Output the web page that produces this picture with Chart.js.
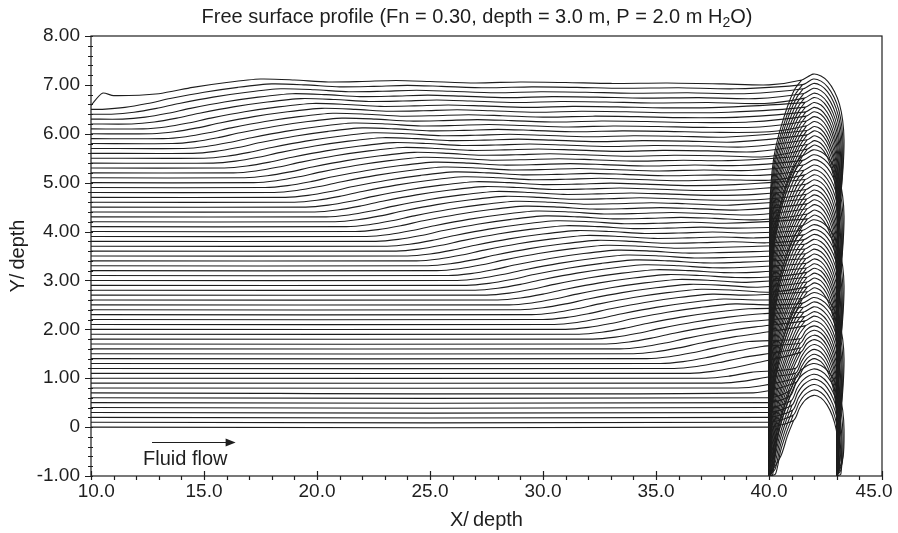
<!DOCTYPE html>
<html>
<head>
<meta charset="utf-8">
<script src="https://cdn.jsdelivr.net/npm/chart.js@4.4.1/dist/chart.umd.min.js"></script>
<style>
  html, body { margin: 0; background: #fff; }
</style>
</head>
<body>
<canvas id="surfaceChart" width="898" height="533"></canvas>
<script>
// one profile per time step, stacked upwards by 0.1 depth
const offsets = [0.0, 0.1, 0.2, 0.3, 0.4, 0.5, 0.6, 0.7, 0.8, 0.9,
  1.0, 1.1, 1.2, 1.3, 1.4, 1.5, 1.6, 1.7, 1.8, 1.9,
  2.0, 2.1, 2.2, 2.3, 2.4, 2.5, 2.6, 2.7, 2.8, 2.9,
  3.0, 3.1, 3.2, 3.3, 3.4, 3.5, 3.6, 3.7, 3.8, 3.9,
  4.0, 4.1, 4.2, 4.3, 4.4, 4.5, 4.6, 4.7, 4.8, 4.9,
  5.0, 5.1, 5.2, 5.3, 5.4, 5.5, 5.6, 5.7, 5.8, 5.9,
  6.0, 6.1, 6.2, 6.3, 6.4, 6.5, 6.6];

// leading edge of the upstream set-up for each profile (null = not yet left x = 40)
const frontX = [null, null, null, null, null, null,
  40.0, 39.3, 38.6, 37.9, 37.2, 36.5, 35.8, 35.2, 34.6, 34.0,
  33.4, 32.8, 32.2, 31.6, 31.0, 30.5, 30.0, 29.5, 29.0, 28.5,
  28.0, 27.5, 27.0, 26.6, 26.2, 25.8, 25.3, 24.9, 24.4, 24.0,
  23.5, 23.1, 22.6, 22.2, 21.7, 21.3, 20.8, 20.4, 19.9, 19.5,
  19.0, 18.6, 18.1, 17.7, 17.2, 16.8, 16.3, 15.9, 15.4, 15.0,
  14.5, 14.1, 13.6, 13.2, 12.7, 12.3, 11.8, 11.4, 10.9, 10.5, 10.0];

// set-up shape behind the leading edge (distance, rise)
const frontDx = [0, 1, 2, 3, 4.5, 6, 7.5, 9, 10.5, 12, 13.5, 15, 17, 19, 21, 23, 25.5, 28, 30];
const frontDy = [0, 0.04, 0.12, 0.22, 0.35, 0.45, 0.52, 0.50, 0.46, 0.47, 0.49, 0.47, 0.44, 0.46, 0.45, 0.43, 0.44, 0.42, 0.40];

// inlet kink on the last profile
const inletX = [10.0, 10.5, 11.0];
const inletY = [6.58, 6.83, 6.78];

// crest height over the pressure patch and how broad the crest is (0 narrow, 1 broad)
const crestY = [0.65, 0.76, 0.87, 0.98, 1.08, 1.19, 1.30,
  1.40, 1.49, 1.59, 1.69, 1.79, 1.88, 1.98, 2.07, 2.17, 2.27, 2.36, 2.46, 2.56, 2.65, 2.75,
  2.85, 2.95, 3.05, 3.15, 3.25, 3.34, 3.44, 3.54, 3.64, 3.74, 3.84, 3.94, 4.04, 4.14, 4.24,
  4.34, 4.44, 4.55, 4.65, 4.75, 4.85, 4.95, 5.06, 5.16, 5.26, 5.36, 5.47, 5.57, 5.67,
  5.77, 5.86, 5.96, 6.06, 6.15, 6.25, 6.35, 6.45, 6.54, 6.64, 6.74, 6.83, 6.93, 7.03, 7.12, 7.22];
const crestWide = [0.35, 0.42, 0.5, 0.6, 0.7, 0.85, 1.0,
  0, 0.02, 0.05, 0.08, 0.12, 0.16, 0.21, 0.27, 0.34, 0.42, 0.51, 0.61, 0.72, 0.85, 1.0,
  0, 0.02, 0.05, 0.08, 0.12, 0.16, 0.21, 0.27, 0.34, 0.42, 0.51, 0.61, 0.72, 0.85, 1.0,
  0, 0.03, 0.06, 0.1, 0.14, 0.19, 0.25, 0.32, 0.4, 0.5, 0.61, 0.73, 0.86, 1.0,
  0, 0.02, 0.04, 0.07, 0.1, 0.14, 0.18, 0.23, 0.29, 0.36, 0.44, 0.53, 0.63, 0.74, 0.86, 1.0];

// crest outlines (x, drop below crest; null = on the bed)
const narrowX = [40.0, 40.05, 40.15, 40.35, 40.6, 40.9, 41.2, 41.45, 41.7, 42.0,
  42.3, 42.55, 42.75, 42.9, 42.98, 43.02, 43.03, 43.02, 43.0, 43.0];
const narrowDrop = [null, 3.2, 2.4, 1.7, 1.2, 0.8, 0.48, 0.25, 0.08, 0,
  0.06, 0.22, 0.45, 0.75, 1.1, 1.5, 2.0, 2.7, 3.5, null];
const wideX = [40.0, 40.03, 40.08, 40.2, 40.4, 40.65, 40.9, 41.15, 41.45, 41.95,
  42.3, 42.6, 42.9, 43.12, 43.26, 43.32, 43.28, 43.16, 43.06, 43.0];
const wideDrop = [null, 3.0, 2.3, 1.75, 1.3, 0.9, 0.56, 0.3, 0.12, 0,
  0.04, 0.15, 0.36, 0.62, 0.95, 1.35, 1.9, 2.6, 3.5, null];

const bedY = -1.0;
const FONT = '"Liberation Sans", Arial, Helvetica, sans-serif';
const INK = '#1e1e1e';

function buildProfile(i) {
  const L = offsets[i];
  const last = i === offsets.length - 1;
  const pts = [];
  if (last) inletX.forEach((x, k) => pts.push({x: x, y: inletY[k]}));
  else pts.push({x: 10, y: L});

  const xf = frontX[i];
  if (xf === null) {
    pts.push({x: 40, y: L});
  } else {
    frontDx.forEach((dx, k) => {
      const x = xf + dx;
      if (x <= 40 && x > pts[pts.length - 1].x + (last ? 1.2 : 0.05)) pts.push({x: x, y: L + frontDy[k]});
    });
  }
  const endY = pts[pts.length - 1].y;

  const w = crestWide[i];
  const arch = narrowX.map((nx, k) => {
    const x = nx + w * (wideX[k] - nx);
    if (narrowDrop[k] === null) return {x: x, y: bedY};
    const d = narrowDrop[k] + w * (wideDrop[k] - narrowDrop[k]);
    return {x: x, y: crestY[i] - d};
  }).filter(p => p.y >= bedY);

  let j = arch.findIndex(p => p.y >= endY);
  if (j < 0) j = 1;
  // surface, over the crest and down the lee side, then the lower part of the front face
  return pts.concat(arch.slice(j), [{x: arch[j].x, y: null}], arch.slice(0, j + 1));
}

const datasets = offsets.map((_, i) => ({
  data: buildProfile(i),
  showLine: true,
  borderColor: INK,
  borderWidth: 1.1,
  pointRadius: 0,
  tension: 0.25,
  spanGaps: false,
  fill: false
}));

const xLabel = v => v === 10 ? '  10.0' : v === 45 ? '45.0   ' : v.toFixed(1);

const extras = {
  id: 'extras',
  afterDraw(chart) {
    const {ctx, chartArea: a, scales: {x, y}} = chart;
    ctx.save();
    ctx.strokeStyle = INK;
    ctx.fillStyle = INK;
    ctx.lineWidth = 1.2;
    ctx.strokeRect(a.left, a.top, a.right - a.left, a.bottom - a.top);

    // ticks: majors cross the axis, minors outside
    ctx.beginPath();
    for (let v = 10; v <= 45; v++) {
      const px = Math.round(x.getPixelForValue(v)) + 0.5;
      const major = v % 5 === 0;
      ctx.moveTo(px, a.bottom + 4);
      ctx.lineTo(px, a.bottom - (major ? 5 : 0));
    }
    for (let k = -5; k <= 40; k++) {
      const py = Math.round(y.getPixelForValue(k * 0.2)) + 0.5;
      const major = k % 5 === 0;
      ctx.moveTo(a.left - (major ? 6 : 3), py);
      ctx.lineTo(a.left + 2, py);
    }
    ctx.stroke();

    // title with subscript
    ctx.textBaseline = 'alphabetic';
    ctx.textAlign = 'left';
    const main = 'Free surface profile (Fn = 0.30, depth = 3.0 m, P = 2.0 m H';
    ctx.font = '20px ' + FONT;
    const w1 = ctx.measureText(main).width;
    ctx.font = '14px ' + FONT;
    const w2 = ctx.measureText('2').width;
    ctx.font = '20px ' + FONT;
    const w3 = ctx.measureText('O)').width;
    let tx = 477 - (w1 + w2 + w3) / 2;
    ctx.fillText(main, tx, 23);
    tx += w1;
    ctx.font = '14px ' + FONT;
    ctx.fillText('2', tx, 27);
    tx += w2;
    ctx.font = '20px ' + FONT;
    ctx.fillText('O)', tx, 23);

    // flow direction note
    const ax0 = x.getPixelForValue(12.7), ax1 = x.getPixelForValue(16.4);
    const ay = Math.round(y.getPixelForValue(-0.31)) + 0.5;
    ctx.lineWidth = 1.2;
    ctx.beginPath();
    ctx.moveTo(ax0, ay);
    ctx.lineTo(ax1 - 8, ay);
    ctx.stroke();
    ctx.beginPath();
    ctx.moveTo(ax1, ay);
    ctx.lineTo(ax1 - 10, ay - 4);
    ctx.lineTo(ax1 - 10, ay + 4);
    ctx.closePath();
    ctx.fill();
    ctx.textBaseline = 'middle';
    ctx.fillText('Fluid flow', x.getPixelForValue(12.3), y.getPixelForValue(-0.66));
    ctx.restore();
  }
};

new Chart(document.getElementById('surfaceChart').getContext('2d'), {
  type: 'scatter',
  data: { datasets: datasets },
  options: {
    responsive: false,
    animation: false,
    events: [],
    layout: { padding: { top: 36, right: 16, left: 0, bottom: 0 } },
    plugins: { legend: { display: false }, tooltip: { enabled: false } },
    scales: {
      x: {
        type: 'linear',
        min: 10,
        max: 45,
        grid: { drawOnChartArea: false, drawTicks: false },
        border: { display: false },
        ticks: {
          stepSize: 5,
          autoSkip: false,
          maxRotation: 0,
          padding: 4,
          color: INK,
          font: { family: FONT, size: 19 },
          callback: xLabel
        },
        title: {
          display: true,
          text: 'X/\u2009depth',
          color: INK,
          font: { family: FONT, size: 20 },
          padding: { top: 0, bottom: 1 }
        },
        afterFit: s => { s.height = 57; s.paddingLeft = 0; s.paddingRight = 0; }
      },
      y: {
        type: 'linear',
        min: -1,
        max: 8,
        grid: { drawOnChartArea: false, drawTicks: false },
        border: { display: false },
        ticks: {
          stepSize: 1,
          padding: 11,
          color: INK,
          font: { family: FONT, size: 19 },
          callback: v => v === 0 ? '0' : v.toFixed(2)
        },
        title: {
          display: true,
          text: 'Y/\u2009depth',
          color: INK,
          font: { family: FONT, size: 20 },
          padding: { top: 6, bottom: 0 }
        },
        afterFit: s => { s.width = 91; }
      }
    }
  },
  plugins: [extras]
});
</script>
</body>
</html>
